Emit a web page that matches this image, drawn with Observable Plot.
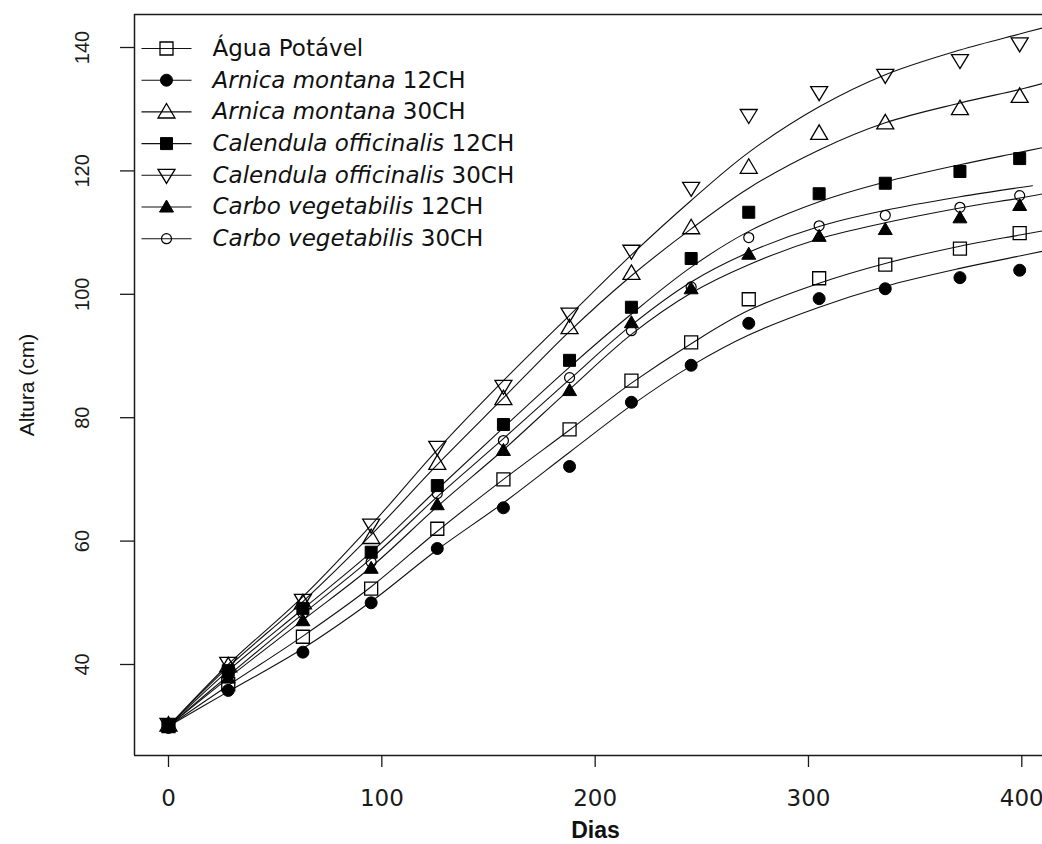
<!DOCTYPE html>
<html><head><meta charset="utf-8">
<script src="https://cdn.jsdelivr.net/npm/d3@7"></script>
<script src="https://cdn.jsdelivr.net/npm/@observablehq/plot@0.6"></script>
<style>
html,body{margin:0;padding:0;background:#fff;}
#chart svg{display:block;}
</style></head><body><div id="chart"></div>
<script>
// ---------- DATA ----------
const days = [0, 28, 63, 95, 126, 157, 188, 217, 245, 272, 305, 336, 371, 399];

const aguaPotavel   = [30.0, 36.8, 44.5, 52.3, 62.0, 70.0, 78.1, 86.0, 92.2, 99.2, 102.6, 104.8, 107.4, 109.9];
const arnica12      = [29.8, 35.8, 42.0, 50.0, 58.8, 65.4, 72.1, 82.5, 88.5, 95.3, 99.3, 100.9, 102.7, 103.9];
const arnica30      = [30.2, 39.8, 50.0, 60.6, 72.6, 83.1, 94.6, 103.4, 110.8, 120.6, 126.1, 127.8, 130.1, 132.1];
const calendula12   = [30.1, 39.0, 49.1, 58.2, 69.0, 78.9, 89.3, 97.9, 105.8, 113.3, 116.3, 118.0, 119.9, 122.0];
const calendula30   = [30.3, 40.2, 50.4, 62.6, 75.2, 85.1, 96.8, 107.0, 117.2, 129.0, 132.7, 135.5, 137.9, 140.6];
const carbo12       = [30.0, 37.8, 47.1, 55.6, 65.9, 74.7, 84.4, 95.4, 100.9, 106.5, 109.4, 110.5, 112.4, 114.4];
const carbo30       = [29.9, 38.3, 48.3, 56.6, 67.7, 76.3, 86.5, 94.1, 101.2, 109.2, 111.1, 112.8, 114.1, 116.0];

// fitted curves
const fitDays        = [0, 28, 63, 95, 126, 157, 188, 217, 245, 272, 305, 336, 371, 399, 410];
const fitDaysCarbo30 = [0, 28, 63, 95, 126, 157, 188, 217, 245, 272, 305, 336, 371, 399, 405];
const fitAgua        = [30.0, 36.6, 44.6, 52.6, 61.6, 70.0, 78.0, 85.6, 92.0, 97.4, 101.8, 105.0, 107.8, 109.6, 110.3];
const fitArnica12    = [30.0, 35.6, 42.6, 50.2, 58.6, 66.2, 74.4, 82.0, 88.4, 93.4, 97.9, 101.3, 104.2, 106.2, 107.0];
const fitArnica30    = [30.0, 39.6, 50.2, 61.0, 72.4, 83.2, 94.0, 103.0, 110.6, 117.2, 123.4, 127.8, 131.0, 133.2, 134.2];
const fitCalendula12 = [30.0, 39.0, 49.0, 58.2, 68.4, 78.4, 88.2, 96.8, 104.4, 110.2, 115.0, 118.2, 121.0, 123.0, 123.8];
const fitCalendula30 = [30.0, 40.0, 51.0, 62.6, 74.8, 86.0, 96.6, 106.4, 115.2, 123.0, 130.4, 135.6, 139.6, 142.2, 143.2];
const fitCarbo12     = [30.0, 37.8, 47.2, 55.8, 65.6, 74.8, 84.6, 93.5, 100.2, 104.8, 109.0, 111.6, 114.0, 115.6, 116.3];
const fitCarbo30     = [30.0, 38.2, 48.2, 57.2, 67.2, 76.6, 86.2, 95.0, 102.0, 106.8, 111.0, 113.6, 115.8, 117.3, 117.6];

const legendItalic = ["", "Arnica montana", "Arnica montana", "Calendula officinalis", "Calendula officinalis", "Carbo vegetabilis", "Carbo vegetabilis"];
const legendPlain  = ["Água Potável", "12CH", "30CH", "12CH", "30CH", "12CH", "30CH"];

const xTicks = [0, 100, 200, 300, 400];
const yTicks = [40, 60, 80, 100, 120, 140];
const xLabel = "Dias";
const yLabel = "Altura (cm)";

// ---------- STYLE ----------
function sym(kind, a, b) {
  return {draw(ctx) {
    if (kind === "square") { ctx.rect(-a, -a, 2 * a, 2 * a); }
    else if (kind === "circle") { ctx.moveTo(a, 0); ctx.arc(0, 0, a, 0, 2 * Math.PI); ctx.closePath(); }
    else if (kind === "up") { ctx.moveTo(0, -b * 0.58); ctx.lineTo(a, b * 0.42); ctx.lineTo(-a, b * 0.42); ctx.closePath(); }
    else if (kind === "down") { ctx.moveTo(0, b * 0.58); ctx.lineTo(a, -b * 0.42); ctx.lineTo(-a, -b * 0.42); ctx.closePath(); }
    else if (kind === "hline") { ctx.moveTo(-a, 0); ctx.lineTo(a, 0); }
  }};
}

const seriesValues = [aguaPotavel, arnica12, arnica30, calendula12, calendula30, carbo12, carbo30];
const seriesFits   = [fitAgua, fitArnica12, fitArnica30, fitCalendula12, fitCalendula30, fitCarbo12, fitCarbo30];
const seriesFitDays = [fitDays, fitDays, fitDays, fitDays, fitDays, fitDays, fitDaysCarbo30];
const seriesStyle = [
  {symbol: sym("square", 6.5), fill: "none", strokeWidth: 1.3},
  {symbol: sym("circle", 6), fill: "#000", strokeWidth: 1},
  {symbol: sym("up", 8.5, 14.5), fill: "none", strokeWidth: 1.3},
  {symbol: sym("square", 6), fill: "#000", strokeWidth: 1},
  {symbol: sym("down", 8.5, 14), fill: "none", strokeWidth: 1.3},
  {symbol: sym("up", 7, 12), fill: "#000", strokeWidth: 1},
  {symbol: sym("circle", 5), fill: "none", strokeWidth: 1.2}
];

const W = 1042, H = 844;
const mL = 134, mR = 0, mT = 14, mB = 89;
const xDomain = [-15.94, 409.7];
const yDomain = [25.25, 145.35];

const legendFont = "DejaVu Sans";
const legendSize = 23;
const cv = document.createElement("canvas").getContext("2d");
function measure(t, style) { cv.font = `${style} ${legendSize}px "${legendFont}"`; return cv.measureText(t).width; }

const marks = [];
// frame (left, top, bottom)
marks.push(Plot.ruleX([xDomain[0]], {stroke: "#1a1a1a", strokeWidth: 1.5}));
marks.push(Plot.ruleY([yDomain[1]], {stroke: "#1a1a1a", strokeWidth: 1.5}));
marks.push(Plot.ruleY([yDomain[0]], {stroke: "#1a1a1a", strokeWidth: 1.5}));

// axes ticks
marks.push(Plot.axisX({ticks: xTicks, tickSize: 12, tickFormat: () => "", label: null, stroke: "#1a1a1a", strokeWidth: 1.3}));
marks.push(Plot.axisY({ticks: yTicks, tickSize: 14, tickFormat: () => "", label: null, stroke: "#1a1a1a", strokeWidth: 1.3}));
marks.push(Plot.text(xTicks, {x: d => d, frameAnchor: "bottom", dy: 43, text: d => String(d), fontFamily: "DejaVu Sans", fontSize: 23, fill: "#1a1a1a", textAnchor: "middle", lineAnchor: "middle"}));
marks.push(Plot.text(yTicks, {y: d => d, frameAnchor: "left", dx: -52, rotate: -90, text: d => String(d), fontFamily: "Liberation Sans", fontSize: 20, fill: "#1a1a1a", textAnchor: "middle", lineAnchor: "middle"}));
marks.push(Plot.text([xLabel], {frameAnchor: "bottom", dy: 75, dx: 7, text: d => d, fontFamily: "Liberation Sans", fontWeight: "bold", fontSize: 23, fill: "#111", lineAnchor: "middle"}));
marks.push(Plot.text([yLabel], {frameAnchor: "left", dx: -107, rotate: -90, text: d => d, fontFamily: "Liberation Sans", fontSize: 21, fill: "#111", textAnchor: "middle", lineAnchor: "middle"}));

// fitted curves
seriesFits.forEach((fit, s) => {
  const fd = seriesFitDays[s];
  marks.push(Plot.line(fd.map((d, i) => ({d, v: fit[i]})), {x: "d", y: "v", curve: "catmull-rom", stroke: "#111", strokeWidth: 1.1, clip: true}));
});
// observed points
seriesValues.forEach((vals, s) => {
  const st = seriesStyle[s];
  marks.push(Plot.dot(days.map((d, i) => ({d, v: vals[i]})), {x: "d", y: "v", symbol: st.symbol, fill: st.fill, stroke: "#000", strokeWidth: st.strokeWidth}));
});

// legend inside the plot
legendPlain.forEach((plain, i) => {
  const dy = 48 + i * 31.7 - mT;
  const st = seriesStyle[i];
  marks.push(Plot.dot([0], {frameAnchor: "top-left", dx: 32, dy, symbol: sym("hline", 25), fill: "none", stroke: "#111", strokeWidth: 1.1}));
  marks.push(Plot.dot([0], {frameAnchor: "top-left", dx: 32, dy, symbol: st.symbol, fill: st.fill, stroke: "#000", strokeWidth: st.strokeWidth}));
  let tx = 212 - mL;
  const it = legendItalic[i];
  if (it) {
    marks.push(Plot.text([it], {frameAnchor: "top-left", dx: tx, dy, text: d => d, fontFamily: legendFont, fontStyle: "italic", fontSize: legendSize, fill: "#111", textAnchor: "start", lineAnchor: "middle"}));
    tx += measure(it, "italic") + measure(" ", "normal");
  }
  marks.push(Plot.text([plain], {frameAnchor: "top-left", dx: tx, dy, text: d => d, fontFamily: legendFont, fontSize: legendSize, fill: "#111", textAnchor: "start", lineAnchor: "middle"}));
});

const chart = Plot.plot({
  width: W, height: H,
  marginLeft: mL, marginRight: mR, marginTop: mT, marginBottom: mB,
  x: {domain: xDomain},
  y: {domain: yDomain},
  style: {background: "#fff", overflow: "visible"},
  marks
});
document.getElementById("chart").appendChild(chart);
</script>
</body></html>
